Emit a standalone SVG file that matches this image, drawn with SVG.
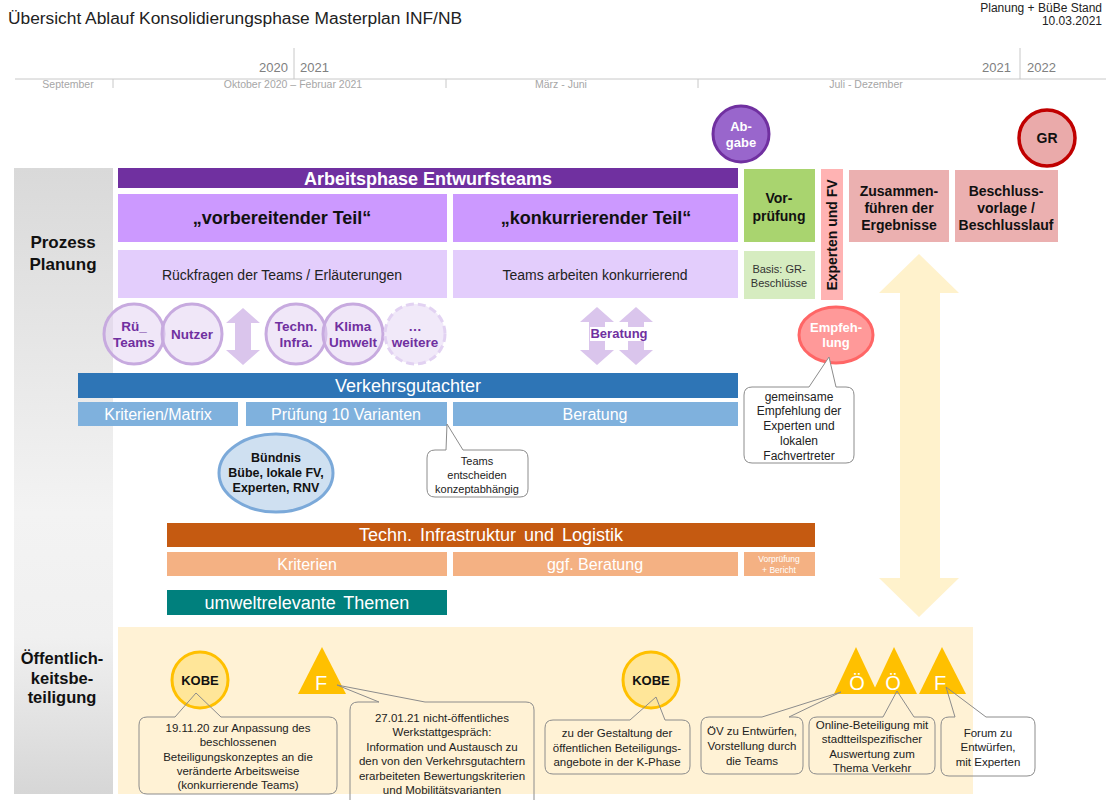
<svg xmlns="http://www.w3.org/2000/svg" width="1106" height="800" viewBox="0 0 1106 800">
<defs>
<linearGradient id="gp" x1="0" y1="0" x2="0" y2="1">
<stop offset="0" stop-color="#d9d9d9"/>
<stop offset="0.55" stop-color="#f3f3f3"/>
<stop offset="0.75" stop-color="#f0f0f0"/>
<stop offset="1" stop-color="#d6d6d6"/>
</linearGradient>
<style>
text{font-family:"Liberation Sans",Arial,sans-serif}
.c{text-anchor:middle}
.b{font-weight:bold}
.yr{font-size:13px;fill:#808080}
.mo{font-size:10.5px;fill:#a6a6a6;text-anchor:middle}
.tl{stroke:#c8c8c8;stroke-width:1}
.bar{font-size:18px;fill:#fff;text-anchor:middle}
.sub{font-size:16px;fill:#fff;text-anchor:middle}
.circ{fill:#e3d3f3;fill-opacity:0.55;stroke:#c7aadf;stroke-width:3}
.ct{font-size:13.5px;font-weight:bold;fill:#7030a0;text-anchor:middle}
.callout{fill:none;stroke:#8c8c8c;stroke-width:1}
.cw{fill:#fff;stroke:#8c8c8c;stroke-width:1}
.cl{font-size:11.5px;fill:#222;text-anchor:middle}
.kobe{fill:#ffe699;stroke:#ffc000;stroke-width:3}
.tri{fill:#ffc000}
.trit{font-size:20px;fill:#fff;text-anchor:middle}
.pa{fill:#dac5ec}
</style>
</defs>
<rect width="1106" height="800" fill="#fff"/>

<g id="header">
<text x="8" y="24" font-size="16" fill="#222" textLength="454" lengthAdjust="spacingAndGlyphs">Übersicht Ablauf Konsolidierungsphase  Masterplan INF/NB</text>
<text x="1102" y="12" font-size="12" fill="#222" text-anchor="end">Planung + BüBe Stand</text>
<text x="1102" y="25" font-size="12" fill="#222" text-anchor="end">10.03.2021</text>
</g>

<g id="timeline">
<line class="tl" x1="15" y1="79" x2="1106" y2="79"/>
<line class="tl" x1="294" y1="48" x2="294" y2="79"/>
<line class="tl" x1="1020" y1="48" x2="1020" y2="79"/>
<line class="tl" x1="113" y1="79" x2="113" y2="88"/>
<line class="tl" x1="446" y1="79" x2="446" y2="88"/>
<line class="tl" x1="698" y1="79" x2="698" y2="88"/>
<text class="yr" x="288" y="72" text-anchor="end">2020</text>
<text class="yr" x="300" y="72">2021</text>
<text class="yr" x="1011" y="72" text-anchor="end">2021</text>
<text class="yr" x="1027" y="72">2022</text>
<text class="mo" x="68" y="88">September</text>
<text class="mo" x="293" y="88">Oktober 2020 – Februar 2021</text>
<text class="mo" x="561" y="88">März - Juni</text>
<text class="mo" x="866" y="88">Juli - Dezember</text>
</g>

<g id="panel-left">
<rect x="14" y="168" width="99" height="626" fill="url(#gp)"/>
<text class="c b" x="63" y="248" font-size="17" fill="#111">Prozess</text>
<text class="c b" x="63" y="270" font-size="17" fill="#111">Planung</text>
<text class="c b" x="62" y="664" font-size="16.5" fill="#111">Öffentlich-</text>
<text class="c b" x="62" y="684" font-size="16.5" fill="#111">keitsbe-</text>
<text class="c b" x="62" y="703" font-size="16.5" fill="#111">teiligung</text>
</g>

<g id="oeff-bg">
<rect x="118" y="627" width="855" height="167" fill="#fff2d5"/>
</g>

<g id="connectors">
<path d="M919,254 L959,293 L940,293 L940,578 L959,578 L919,617 L879,578 L900,578 L900,293 L879,293 Z" fill="#fff2cc"/>
<path class="pa" d="M243,308 L260,323 L251,323 L251,350 L260,350 L243,365 L226,350 L235,350 L235,323 L226,323 Z"/>
<path class="pa" d="M597,307 L614,322 L605,322 L605,350 L614,350 L597,365 L580,350 L589,350 L589,322 L580,322 Z"/>
<path class="pa" d="M636,307 L653,322 L644,322 L644,350 L653,350 L636,365 L619,350 L628,350 L628,322 L619,322 Z"/>
</g>

<g id="arbeitsphase">
<rect x="118" y="168" width="620" height="20" fill="#7030a0"/>
<text class="c b" x="428" y="185" font-size="18" fill="#fff">Arbeitsphase Entwurfsteams</text>
</g>
<g id="vorbereitend">
<rect x="118" y="194" width="329" height="48" fill="#cc99ff"/>
<text class="c b" x="282" y="224" font-size="18" fill="#111">„vorbereitender Teil“</text>
</g>
<g id="konkurrierend">
<rect x="453" y="194" width="285" height="48" fill="#cc99ff"/>
<text class="c b" x="596" y="224" font-size="18" fill="#111">„konkurrierender Teil“</text>
</g>
<g id="rueckfragen">
<rect x="118" y="250" width="329" height="48" fill="#e3cdfc"/>
<text class="c" x="282" y="280" font-size="14" fill="#222">Rückfragen der Teams / Erläuterungen</text>
</g>
<g id="teams-arbeiten">
<rect x="453" y="250" width="285" height="48" fill="#e3cdfc"/>
<text class="c" x="595" y="280" font-size="14" fill="#222">Teams arbeiten konkurrierend</text>
</g>
<g id="vorpruefung">
<rect x="744" y="169" width="71" height="73" fill="#a9d46f"/>
<text class="c b" x="779" y="203" font-size="14" fill="#111">Vor-</text>
<text class="c b" x="779" y="221" font-size="14" fill="#111">prüfung</text>
</g>
<g id="basis">
<rect x="744" y="251" width="71" height="48" fill="#d6ecc0"/>
<text class="c" x="779" y="273" font-size="11" fill="#333">Basis: GR-</text>
<text class="c" x="779" y="287" font-size="11" fill="#333">Beschlüsse</text>
</g>
<g id="experten-fv">
<rect x="821" y="169" width="22" height="131" fill="#ffb3b3"/>
<text class="c b" transform="translate(837,235) rotate(-90)" x="0" y="0" font-size="14" fill="#111">Experten und FV</text>
</g>
<g id="zusammenfuehren">
<rect x="849" y="170" width="100" height="72" fill="#ebb0b0"/>
<text class="c b" x="899" y="196" font-size="14" fill="#111">Zusammen-</text>
<text class="c b" x="899" y="213" font-size="14" fill="#111">führen der</text>
<text class="c b" x="899" y="230" font-size="14" fill="#111">Ergebnisse</text>
</g>
<g id="beschluss">
<rect x="955" y="170" width="103" height="72" fill="#ebb0b0"/>
<text class="c b" x="1006" y="196" font-size="14" fill="#111">Beschluss-</text>
<text class="c b" x="1006" y="213" font-size="14" fill="#111">vorlage /</text>
<text class="c b" x="1006" y="230" font-size="14" fill="#111">Beschlusslauf</text>
</g>
<g id="abgabe">
<circle cx="741" cy="134" r="28" fill="#9966cc" stroke="#7030a0" stroke-width="3"/>
<text class="c b" x="741" y="131" font-size="13" fill="#fff">Ab-</text>
<text class="c b" x="741" y="147" font-size="13" fill="#fff">gabe</text>
</g>
<g id="gr">
<circle cx="1047" cy="138" r="28" fill="#eaaaaa" stroke="#c00000" stroke-width="3.5"/>
<text class="c b" x="1047" y="143" font-size="14" fill="#111">GR</text>
</g>

<g id="circle-rue-teams">
<circle class="circ" cx="134" cy="334" r="30"/>
<text class="ct" x="134" y="331">Rü_</text>
<text class="ct" x="134" y="347">Teams</text>
</g>
<g id="circle-nutzer">
<circle class="circ" cx="192" cy="334" r="30"/>
<text class="ct" x="192" y="339">Nutzer</text>
</g>
<g id="circle-techn">
<circle class="circ" cx="296" cy="334" r="30"/>
<text class="ct" x="296" y="331">Techn.</text>
<text class="ct" x="296" y="347">Infra.</text>
</g>
<g id="circle-klima">
<circle class="circ" cx="353" cy="334" r="30"/>
<text class="ct" x="353" y="331">Klima</text>
<text class="ct" x="353" y="347">Umwelt</text>
</g>
<g id="circle-weitere">
<circle cx="415" cy="334" r="30" fill="#f1e9f9" stroke="#e2d2f2" stroke-width="3" stroke-dasharray="8,4"/>
<text class="ct" x="415" y="331">…</text>
<text class="ct" x="415" y="347">weitere</text>
</g>
<g id="beratung-label">
<rect x="590" y="327" width="58" height="14" fill="#fff"/>
<text class="c b" x="619" y="338" font-size="13" fill="#7030a0">Beratung</text>
</g>
<g id="empfehlung">
<ellipse cx="836" cy="335" rx="37" ry="28" fill="#ff9999" stroke="#ff6666" stroke-width="3"/>
<text class="c b" x="836" y="332" font-size="13" fill="#fff">Empfeh-</text>
<text class="c b" x="836" y="347" font-size="13" fill="#fff">lung</text>
</g>
<g id="callout-empfehlung">
<path class="cw" d="M752,387 L809,387 L829,357 L836,387 L846,387 Q854,387 854,395 L854,455 Q854,463 846,463 L752,463 Q744,463 744,455 L744,395 Q744,387 752,387 Z"/>
<text class="c" x="799" y="401" font-size="12" fill="#222">gemeinsame</text>
<text class="c" x="799" y="415" font-size="12" fill="#222">Empfehlung der</text>
<text class="c" x="799" y="430" font-size="12" fill="#222">Experten und</text>
<text class="c" x="799" y="445" font-size="12" fill="#222">lokalen</text>
<text class="c" x="799" y="460" font-size="12" fill="#222">Fachvertreter</text>
</g>

<g id="verkehrsgutachter">
<rect x="78" y="373" width="660" height="25" fill="#2e75b6"/>
<text class="bar" x="408" y="392">Verkehrsgutachter</text>
</g>
<g id="kriterien-matrix">
<rect x="78" y="402" width="160" height="24" fill="#7fb1dd"/>
<text class="sub" x="158" y="420">Kriterien/Matrix</text>
</g>
<g id="pruefung-varianten">
<rect x="246" y="402" width="201" height="24" fill="#7fb1dd"/>
<text class="sub" x="346" y="420">Prüfung 10 Varianten</text>
</g>
<g id="beratung-vg">
<rect x="453" y="402" width="285" height="24" fill="#7fb1dd"/>
<text class="sub" x="595" y="420">Beratung</text>
</g>
<g id="callout-teams">
<path class="cw" d="M435,450 L446,450 L447,424 L463,450 L520,450 Q528,450 528,458 L528,489 Q528,497 520,497 L435,497 Q427,497 427,489 L427,458 Q427,450 435,450 Z"/>
<text class="c" x="477" y="465" font-size="11" fill="#222">Teams</text>
<text class="c" x="477" y="479" font-size="11" fill="#222">entscheiden</text>
<text class="c" x="477" y="493" font-size="11" fill="#222">konzeptabhängig</text>
</g>
<g id="buendnis">
<ellipse cx="276" cy="473" rx="57" ry="39" fill="#cfe0f1" stroke="#7ba9d9" stroke-width="3"/>
<text class="c b" x="276" y="462" font-size="12.5" fill="#111">Bündnis</text>
<text class="c b" x="276" y="477" font-size="12.5" fill="#111">Bübe, lokale FV,</text>
<text class="c b" x="276" y="492" font-size="12.5" fill="#111">Experten, RNV</text>
</g>

<g id="techn-infra">
<rect x="167" y="523" width="648" height="24" fill="#c55a11"/>
<text class="bar" x="491" y="541" font-size="17.5" word-spacing="3">Techn. Infrastruktur und Logistik</text>
</g>
<g id="kriterien-ti">
<rect x="167" y="552" width="280" height="24" fill="#f4b183"/>
<text class="sub" x="307" y="570">Kriterien</text>
</g>
<g id="ggf-beratung">
<rect x="453" y="552" width="285" height="24" fill="#f4b183"/>
<text class="sub" x="595" y="570">ggf. Beratung</text>
</g>
<g id="vorpruefung-bericht">
<rect x="744" y="552" width="71" height="24" fill="#f4b183"/>
<text class="c" x="779" y="562" font-size="8.5" fill="#fff">Vorprüfung</text>
<text class="c" x="779" y="573" font-size="8.5" fill="#fff">+ Bericht</text>
</g>
<g id="umwelt">
<rect x="167" y="590" width="280" height="25" fill="#00807d"/>
<text class="bar" x="307" y="609" word-spacing="3">umweltrelevante Themen</text>
</g>

<g id="kobe1">
<circle class="kobe" cx="200" cy="680" r="28"/>
<text class="c b" x="200" y="685" font-size="13" fill="#111">KOBE</text>
</g>
<g id="f1">
<polygon class="tri" points="298,694 346,694 322,647"/>
<text class="trit" x="321" y="690">F</text>
</g>
<g id="kobe2">
<circle class="kobe" cx="651" cy="680" r="28"/>
<text class="c b" x="651" y="685" font-size="13" fill="#111">KOBE</text>
</g>
<g id="oe1">
<polygon class="tri" points="834,694 878,694 856,647"/>
<text class="trit" x="857" y="690">Ö</text>
</g>
<g id="oe2">
<polygon class="tri" points="872,694 917,694 894,647"/>
<text class="trit" x="893" y="690">Ö</text>
</g>
<g id="f2">
<polygon class="tri" points="919,694 966,694 942,647"/>
<text class="trit" x="940" y="690">F</text>
</g>

<g id="callout-kobe1">
<path class="callout" d="M147,717 L175,717 L196,693 L221,717 L329,717 Q337,717 337,725 L337,786 Q337,794 329,794 L147,794 Q139,794 139,786 L139,725 Q139,717 147,717 Z"/>
<text class="cl" x="238" y="732">19.11.20 zur Anpassung des</text>
<text class="cl" x="238" y="746">beschlossenen</text>
<text class="cl" x="238" y="761">Beteiligungskonzeptes an die</text>
<text class="cl" x="238" y="775">veränderte  Arbeitsweise</text>
<text class="cl" x="238" y="789">(konkurrierende  Teams)</text>
</g>
<g id="callout-f1">
<path class="callout" d="M358,702 L379,702 L337,685 L425,702 L526,702 Q534,702 534,710 L534,812 L350,812 L350,710 Q350,702 358,702 Z"/>
<text class="cl" x="442" y="722">27.01.21 nicht-öffentliches</text>
<text class="cl" x="442" y="736">Werkstattgespräch:</text>
<text class="cl" x="442" y="751">Information  und  Austausch zu</text>
<text class="cl" x="442" y="765">den von den Verkehrsgutachtern</text>
<text class="cl" x="442" y="780">erarbeiteten Bewertungskriterien</text>
<text class="cl" x="442" y="794">und Mobilitätsvarianten</text>
</g>
<g id="callout-kobe2">
<path class="callout" d="M553,720 L630,720 L656,697 L665,720 L682,720 Q690,720 690,728 L690,766 Q690,774 682,774 L553,774 Q545,774 545,766 L545,728 Q545,720 553,720 Z"/>
<text class="cl" x="617" y="737">zu der Gestaltung der</text>
<text class="cl" x="617" y="752">öffentlichen  Beteiligungs-</text>
<text class="cl" x="617" y="766">angebote  in der K-Phase</text>
</g>
<g id="callout-oe1">
<path class="callout" d="M709,717 L762,717 L841,692 L789,717 L795,717 Q803,717 803,725 L803,766 Q803,774 795,774 L709,774 Q701,774 701,766 L701,725 Q701,717 709,717 Z"/>
<text class="cl" x="752" y="735">ÖV zu Entwürfen,</text>
<text class="cl" x="752" y="750">Vorstellung durch</text>
<text class="cl" x="752" y="765">die Teams</text>
</g>
<g id="callout-oe2">
<path class="callout" d="M817,717 L883,717 L897,691 L914,717 L927,717 Q935,717 935,725 L935,766 Q935,774 927,774 L817,774 Q809,774 809,766 L809,725 Q809,717 817,717 Z"/>
<text class="cl" x="872" y="729">Online-Beteiligung  mit</text>
<text class="cl" x="872" y="743">stadtteilspezifischer</text>
<text class="cl" x="872" y="758">Auswertung  zum</text>
<text class="cl" x="872" y="772">Thema  Verkehr</text>
</g>
<g id="callout-f2">
<path class="callout" d="M949,717 L955,717 L946,687 L986,717 L1027,717 Q1035,717 1035,725 L1035,768 Q1035,776 1027,776 L949,776 Q941,776 941,768 L941,725 Q941,717 949,717 Z"/>
<text class="cl" x="988" y="737">Forum zu</text>
<text class="cl" x="988" y="751">Entwürfen,</text>
<text class="cl" x="988" y="766">mit Experten</text>
</g>
</svg>
